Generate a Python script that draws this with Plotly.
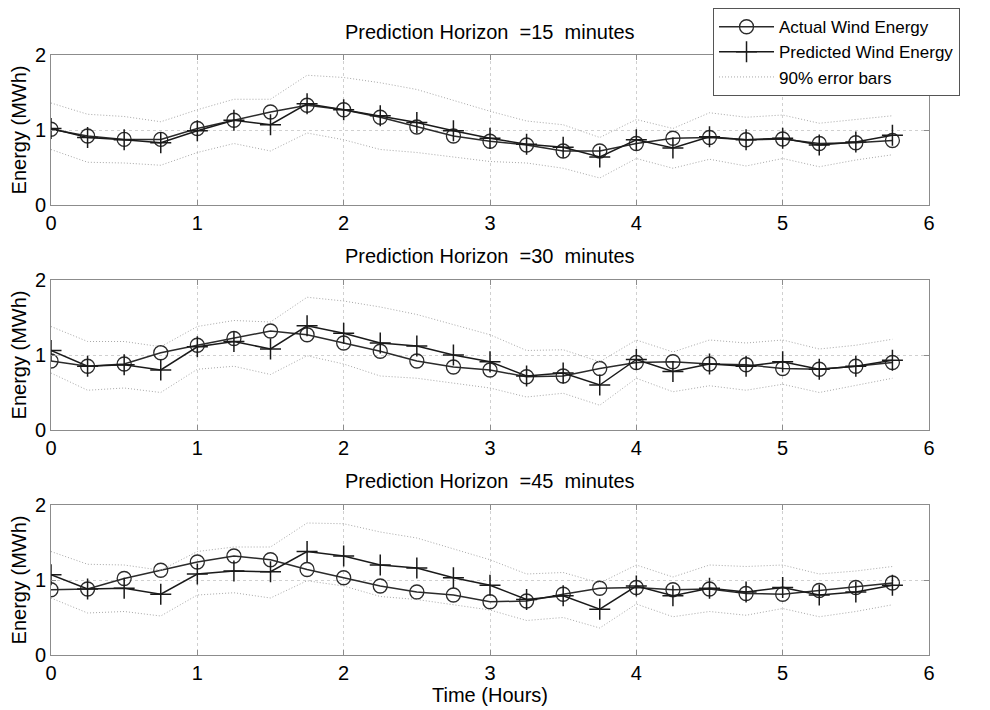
import plotly.graph_objects as go
from plotly.subplots import make_subplots

# time axis (hours), one point every 15 minutes
hours = [i * 0.25 for i in range(24)]

horizons = ["15", "30", "45"]

actual_15 = [1.01, 0.92, 0.875, 0.875, 1.02, 1.13, 1.24, 1.33, 1.27, 1.17, 1.04, 0.92,
             0.85, 0.80, 0.72, 0.72, 0.82, 0.89, 0.90, 0.87, 0.88, 0.82, 0.83, 0.86]
pred_15 = [1.02, 0.90, 0.87, 0.83, 0.99, 1.13, 1.07, 1.35, 1.27, 1.19, 1.10, 0.99,
           0.89, 0.81, 0.77, 0.64, 0.87, 0.76, 0.91, 0.87, 0.89, 0.80, 0.84, 0.93]
upper_15 = [1.36, 1.21, 1.18, 1.11, 1.27, 1.41, 1.41, 1.73, 1.70, 1.63, 1.54, 1.39,
            1.25, 1.12, 1.07, 0.90, 1.14, 1.02, 1.23, 1.17, 1.20, 1.09, 1.14, 1.19]
lower_15 = [0.74, 0.57, 0.56, 0.53, 0.70, 0.82, 0.72, 0.96, 0.87, 0.74, 0.70, 0.64,
            0.58, 0.56, 0.49, 0.36, 0.62, 0.49, 0.61, 0.52, 0.62, 0.51, 0.60, 0.67]

actual_30 = [0.92, 0.85, 0.88, 1.03, 1.13, 1.22, 1.32, 1.27, 1.16, 1.05, 0.92, 0.84,
             0.80, 0.71, 0.72, 0.82, 0.90, 0.91, 0.88, 0.87, 0.82, 0.81, 0.85, 0.90]
pred_30 = [1.06, 0.85, 0.87, 0.80, 1.11, 1.18, 1.08, 1.39, 1.29, 1.16, 1.12, 1.00,
           0.91, 0.72, 0.76, 0.60, 0.94, 0.78, 0.88, 0.85, 0.91, 0.81, 0.85, 0.93]
upper_30 = [1.38, 1.18, 1.18, 1.11, 1.38, 1.46, 1.44, 1.77, 1.72, 1.64, 1.54, 1.40,
            1.27, 1.06, 1.07, 0.91, 1.20, 1.04, 1.20, 1.16, 1.20, 1.08, 1.13, 1.21]
lower_30 = [0.76, 0.53, 0.56, 0.50, 0.81, 0.85, 0.74, 0.99, 0.88, 0.72, 0.69, 0.62,
            0.56, 0.44, 0.49, 0.33, 0.69, 0.51, 0.59, 0.53, 0.61, 0.50, 0.59, 0.69]

actual_45 = [0.87, 0.88, 1.02, 1.13, 1.24, 1.32, 1.27, 1.14, 1.03, 0.92, 0.84, 0.80,
             0.71, 0.72, 0.81, 0.89, 0.90, 0.87, 0.88, 0.82, 0.81, 0.86, 0.90, 0.96]
pred_45 = [1.07, 0.88, 0.89, 0.81, 1.08, 1.12, 1.11, 1.38, 1.32, 1.20, 1.16, 1.03,
           0.93, 0.74, 0.79, 0.61, 0.92, 0.79, 0.89, 0.84, 0.90, 0.80, 0.84, 0.93]
upper_45 = [1.38, 1.21, 1.20, 1.13, 1.38, 1.44, 1.44, 1.76, 1.75, 1.64, 1.56, 1.42,
            1.27, 1.08, 1.10, 0.96, 1.20, 1.04, 1.20, 1.18, 1.20, 1.08, 1.12, 1.18]
lower_45 = [0.76, 0.56, 0.58, 0.52, 0.80, 0.83, 0.76, 0.99, 0.92, 0.78, 0.74, 0.67,
            0.60, 0.46, 0.50, 0.36, 0.68, 0.51, 0.58, 0.53, 0.62, 0.51, 0.58, 0.67]

panels = [
    (actual_15, pred_15, upper_15, lower_15),
    (actual_30, pred_30, upper_30, lower_30),
    (actual_45, pred_45, upper_45, lower_45),
]

FONT = "Liberation Sans, Arial, sans-serif"
AXIS_GREY = "#8c8c8c"
FS = 20

fig = make_subplots(rows=3, cols=1)

for i, (actual, pred, upper, lower) in enumerate(panels):
    row = i + 1
    first = i == 0
    fig.add_trace(go.Scatter(
        x=hours, y=actual, mode="lines+markers", name="Actual Wind Energy",
        line=dict(color="#2b2b2b", width=1.5),
        marker=dict(symbol="circle-open", size=14, color="#2b2b2b", line=dict(width=1.3)),
        legendgroup="act", showlegend=first,
    ), row=row, col=1)
    fig.add_trace(go.Scatter(
        x=hours, y=pred, mode="lines+markers", name="Predicted Wind Energy",
        line=dict(color="#1a1a1a", width=1.5),
        marker=dict(symbol="cross-thin-open", size=15, color="#1a1a1a", line=dict(width=1.5)),
        legendgroup="pred", showlegend=first,
    ), row=row, col=1)
    fig.add_trace(go.Scatter(
        x=hours, y=upper, mode="lines", name="90% error bars",
        line=dict(color="#a8a8a8", width=1, dash="1px,2px"),
        legendgroup="err", showlegend=first,
    ), row=row, col=1)
    fig.add_trace(go.Scatter(
        x=hours, y=lower, mode="lines", name="90% error bars",
        line=dict(color="#a8a8a8", width=1, dash="1px,2px"),
        legendgroup="err", showlegend=False,
    ), row=row, col=1)

domains = [[0.75, 1.0], [0.375, 0.625], [0.0, 0.25]]
title_y = [1.038, 0.665, 0.29]

for i in range(3):
    row = i + 1
    fig.update_xaxes(
        range=[0, 6], dtick=1, tick0=0, automargin=False,
        showline=True, linecolor=AXIS_GREY, linewidth=1, mirror="ticks",
        ticks="inside", ticklen=5, tickcolor=AXIS_GREY,
        showgrid=True, gridcolor="#d0d0d0", griddash="dot", gridwidth=1,
        zeroline=False, tickfont=dict(size=FS, color="black", family=FONT),
        row=row, col=1,
    )
    fig.update_yaxes(
        range=[0, 2], dtick=1, tick0=0, domain=domains[i], automargin=False,
        showline=True, linecolor=AXIS_GREY, linewidth=1, mirror="ticks",
        ticks="inside", ticklen=5, tickcolor=AXIS_GREY,
        showgrid=True, gridcolor="#d0d0d0", griddash="dot", gridwidth=1,
        zeroline=False, tickfont=dict(size=FS, color="black", family=FONT),
        title=dict(text="Energy (MWh)", font=dict(size=FS, color="black", family=FONT), standoff=2),
        row=row, col=1,
    )
    fig.add_annotation(
        text="Prediction Horizon\u00a0 =" + horizons[i] + "\u00a0 minutes",
        xref="paper", yref="paper", x=0.5, y=title_y[i],
        xanchor="center", yanchor="middle", showarrow=False,
        font=dict(size=FS, color="black", family=FONT),
    )

fig.update_xaxes(
    title=dict(text="Time (Hours)", font=dict(size=FS, color="black", family=FONT), standoff=0),
    row=3, col=1,
)

fig.update_layout(
    width=990, height=710,
    margin=dict(l=51, r=61, t=55, b=55, autoexpand=False),
    paper_bgcolor="white", plot_bgcolor="white",
    font=dict(family=FONT, color="black"),
    legend=dict(
        x=0.754, y=1.078, xanchor="left", yanchor="top",
        bgcolor="white", bordercolor="#555555", borderwidth=1,
        font=dict(size=17, color="black", family=FONT),
        tracegroupgap=0, itemwidth=55, maxheight=200,
    ),
)

fig.write_html("out.html", config={"displayModeBar": False},
               post_script="document.body.style.margin='0px';")
